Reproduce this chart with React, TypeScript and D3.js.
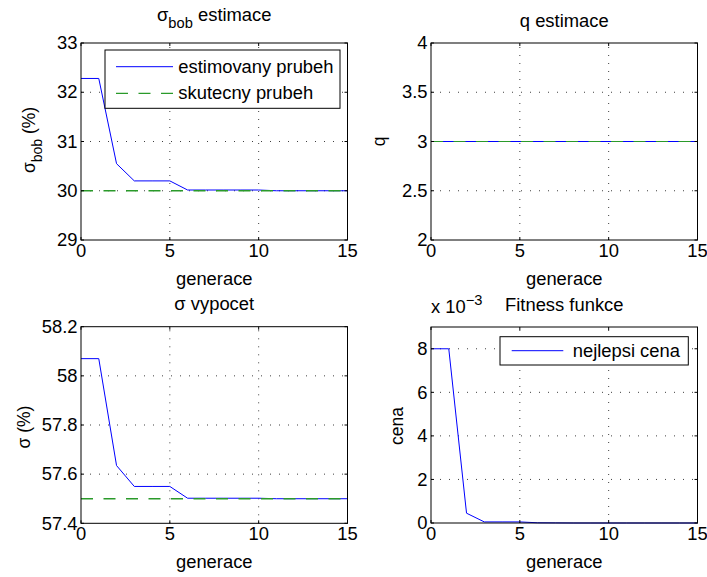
import React from "react";
import * as d3 from "d3";

const generace = d3.range(0, 16);
const sigmaBobEst = [32.28, 32.28, 30.55, 30.2, 30.2, 30.2, 30.015, 30.015, 30.015, 30.015, 30.015, 30.0, 30.0, 30.0, 30.0, 30.0];
const sigmaBobTrue = 30;
const qEst = [3, 3, 3, 3, 3, 3, 3, 3, 3, 3, 3, 3, 3, 3, 3, 3];
const qTrue = 3;
const sigmaEst = [58.07, 58.07, 57.635, 57.55, 57.55, 57.55, 57.502, 57.502, 57.502, 57.502, 57.502, 57.5, 57.5, 57.5, 57.5, 57.5];
const sigmaTrue = 57.5;
const cenaBest = [8.0, 8.0, 0.45, 0.05, 0.05, 0.05, 0.01, 0.005, 0, 0, 0, 0, 0, 0, 0, 0];

const xTicks = [0, 5, 10, 15];
const yTicksTL = [29, 30, 31, 32, 33];
const yTicksTR = [2, 2.5, 3, 3.5, 4];
const yTicksBL = [57.4, 57.6, 57.8, 58, 58.2];
const yTicksBR = [0, 2, 4, 6, 8];

const FONT = "'Liberation Sans', Arial, Helvetica, sans-serif";
const SX = 1.05;
const FS = 17.5;
const SUB = 14;
const BLUE = "#0000ff";
const GREEN = "#2a9a2a";

function T({ x, y, anchor = "start", rotate = false, size = FS, children }: any) {
  return (
    <g transform={`translate(${x},${y}) scale(${SX},1)${rotate ? " rotate(-90)" : ""}`}>
      <text textAnchor={anchor} fontSize={size} fontFamily={FONT} fill="#000">
        {children}
      </text>
    </g>
  );
}

function Panel({ box, yDomain, yTicks, yFmt, series, title, ylabel }: any) {
  const { left, right, top, bottom } = box;
  const x = d3.scaleLinear().domain([0, 15]).range([left, right]);
  const y = d3.scaleLinear().domain(yDomain).range([bottom, top]);
  const line = d3
    .line<[number, number]>()
    .x((d) => x(d[0]))
    .y((d) => y(d[1]));
  const tl = 3;
  return (
    <g>
      <rect x={left} y={top} width={right - left} height={bottom - top} fill="#fff" />
      {xTicks
        .filter((t) => t > 0 && t < 15)
        .map((t) => (
          <line key={"gx" + t} x1={x(t)} x2={x(t)} y1={bottom} y2={top} stroke="#000" strokeWidth={1} strokeDasharray="1,7" opacity={0.75} />
        ))}
      {yTicks
        .filter((t: number) => t !== yDomain[0] && t !== yDomain[1])
        .map((t: number) => (
          <line key={"gy" + t} x1={left} x2={right} y1={y(t)} y2={y(t)} stroke="#000" strokeWidth={1} strokeDasharray="1,8" opacity={0.75} />
        ))}
      {series.map((s: any, i: number) => (
        <path
          key={i}
          d={line(generace.map((g, j) => [g, s.values[j]]) as any) || ""}
          fill="none"
          stroke={s.color}
          strokeWidth={s.width}
          strokeDasharray={s.dash}
        />
      ))}
      <rect x={left} y={top} width={right - left} height={bottom - top} fill="none" stroke="#000" strokeWidth={1} />
      {xTicks.map((t) => (
        <g key={"xt" + t}>
          <line x1={x(t)} x2={x(t)} y1={bottom} y2={bottom - tl} stroke="#000" />
          <line x1={x(t)} x2={x(t)} y1={top} y2={top + tl} stroke="#000" />
          <T x={x(t)} y={bottom + 16.5} anchor="middle">{String(t)}</T>
        </g>
      ))}
      {yTicks.map((t: number) => (
        <g key={"yt" + t}>
          <line x1={left} x2={left + tl} y1={y(t)} y2={y(t)} stroke="#000" />
          <line x1={right} x2={right - tl} y1={y(t)} y2={y(t)} stroke="#000" />
          <T x={left - 3.5} y={y(t) + 6.2} anchor="end">{yFmt(t)}</T>
        </g>
      ))}
      <T x={(left + right) / 2} y={bottom + 44.5} anchor="middle">generace</T>
      {title}
      {ylabel}
    </g>
  );
}

export default function App() {
  const TL = { left: 81, right: 347.5, top: 43, bottom: 240 };
  const TR = { left: 431, right: 697.5, top: 43, bottom: 240 };
  const BL = { left: 81, right: 347.5, top: 326.7, bottom: 523.3 };
  const BR = { left: 431, right: 697.5, top: 327, bottom: 523 };
  const dash = "12,10.5";
  const fmt = (t: number) => String(t);
  const fmt1 = (t: number) => (Number.isInteger(t) ? String(t) : t.toFixed(1));
  const cx = (b: any) => (b.left + b.right) / 2;
  return (
    <svg width={707} height={577} style={{ position: "absolute", left: 0, top: 0, background: "#fff" }}>
      <rect x={0} y={0} width={707} height={577} fill="#fff" />
      <Panel
        box={TL}
        yDomain={[29, 33]}
        yTicks={yTicksTL}
        yFmt={fmt}
        series={[
          { values: sigmaBobEst, color: BLUE, width: 1 },
          { values: generace.map(() => sigmaBobTrue), color: GREEN, width: 1.3, dash },
        ]}
        title={
          <T x={cx(TL)} y={20.7} anchor="middle">
            <tspan>σ</tspan>
            <tspan dy={7.3} fontSize={SUB}>bob</tspan>
            <tspan dy={-7.3}> estimace</tspan>
          </T>
        }
        ylabel={
          <T x={35} y={140} anchor="middle" rotate>
            <tspan>σ</tspan>
            <tspan dy={6.5} fontSize={SUB}>bob</tspan>
            <tspan dy={-6.5}> (%)</tspan>
          </T>
        }
      />
      <Panel
        box={TR}
        yDomain={[2, 4]}
        yTicks={yTicksTR}
        yFmt={fmt1}
        series={[
          { values: qEst, color: BLUE, width: 1.2 },
          { values: generace.map(() => qTrue), color: GREEN, width: 1.2, dash },
        ]}
        title={<T x={cx(TR)} y={26.5} anchor="middle">q estimace</T>}
        ylabel={<T x={384.5} y={141.5} anchor="middle" rotate>q</T>}
      />
      <Panel
        box={BL}
        yDomain={[57.4, 58.2]}
        yTicks={yTicksBL}
        yFmt={(t: number) => (Math.abs(t - 58) < 1e-9 ? "58" : t.toFixed(1))}
        series={[
          { values: sigmaEst, color: BLUE, width: 1 },
          { values: generace.map(() => sigmaTrue), color: GREEN, width: 1.3, dash },
        ]}
        title={<T x={cx(BL)} y={309.5} anchor="middle">σ vypocet</T>}
        ylabel={<T x={29.5} y={427} anchor="middle" rotate>σ (%)</T>}
      />
      <Panel
        box={BR}
        yDomain={[0, 9]}
        yTicks={yTicksBR}
        yFmt={fmt}
        series={[{ values: cenaBest, color: BLUE, width: 1 }]}
        title={<T x={cx(BR)} y={310.5} anchor="middle">Fitness funkce</T>}
        ylabel={<T x={403} y={426} anchor="middle" rotate>cena</T>}
      />
      <T x={431} y={313}>
        <tspan>x 10</tspan>
        <tspan dy={-8} fontSize={SUB}>−3</tspan>
      </T>
      {/* legend top-left */}
      <g>
        <rect x={105} y={50} width={235} height={58.3} fill="#fff" stroke="#000" strokeWidth={1} />
        <line x1={116} x2={173} y1={66.7} y2={66.7} stroke={BLUE} strokeWidth={1} />
        <T x={178.3} y={72.5}>estimovany prubeh</T>
        <line x1={116} x2={173} y1={93.3} y2={93.3} stroke={GREEN} strokeWidth={1.3} strokeDasharray={dash} />
        <T x={178.3} y={99}>skutecny prubeh</T>
      </g>
      {/* legend bottom-right */}
      <g>
        <rect x={500} y={336.7} width={188.3} height={28.3} fill="#fff" stroke="#000" strokeWidth={1} />
        <line x1={511.7} x2={563.3} y1={350.7} y2={350.7} stroke={BLUE} strokeWidth={1} />
        <T x={572.7} y={357}>nejlepsi cena</T>
      </g>
    </svg>
  );
}
